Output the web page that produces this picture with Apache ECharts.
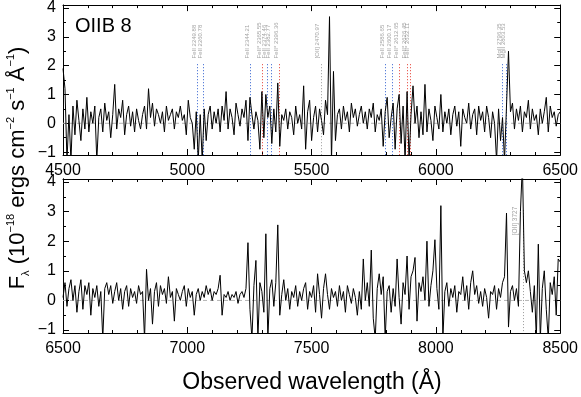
<!DOCTYPE html>
<html><head><meta charset="utf-8">
<script src="https://cdn.jsdelivr.net/npm/echarts@6/dist/echarts.min.js"></script>
<style>html,body{margin:0;padding:0;background:#fff}#c{width:581px;height:397px}</style>
</head><body><div id="c"></div>
<script>
// ---- data ----
const topStart = 4500, botStart = 6500, stepA = 8;
const topFlux = [
1.9,1.2,-1.3,0.3,-1.3,0.6,-0.4,0.8,0.1,-0.6,
0.5,-0.2,0.9,-0.3,0.4,0.0,0.6,-1.3,0.2,0.5,
-0.3,0.7,0.1,0.4,-0.5,0.3,1.35,-0.2,0.5,0.2,
0.8,-0.4,0.3,0.6,-0.1,0.4,-0.3,0.5,0.1,-0.2,
0.3,0.6,-0.2,1.2,0.2,0.7,-0.1,0.5,0.3,0.0,
0.4,-0.3,0.6,0.1,0.3,0.5,-0.2,0.4,0.2,0.6,
0.1,0.3,-0.4,0.8,0.2,0.0,-0.9,0.4,-1.3,0.3,
-1.3,0.5,-0.6,0.3,0.6,-0.2,0.4,0.0,0.5,-0.3,
0.6,0.1,1.1,-0.2,0.5,0.2,-0.4,0.7,0.3,-0.1,
0.5,0.2,0.8,-0.6,0.9,0.3,-0.2,0.4,0.1,-0.9,
1.1,-0.5,1.0,0.2,0.6,-0.7,0.5,-0.3,1.4,-0.8,
0.3,0.1,0.5,-0.2,0.4,0.2,-0.4,0.6,0.0,0.3,
-0.2,1.3,-0.9,0.4,0.8,-0.6,0.2,0.6,-0.3,0.5,
0.1,-0.4,0.8,0.3,3.7,-1.3,1.8,-0.6,0.3,0.5,
-0.2,0.6,0.1,0.4,-0.3,0.7,0.2,0.5,-0.1,0.3,
0.6,0.0,0.4,-0.2,0.5,0.2,0.7,-0.3,0.3,0.1,
0.5,-0.8,0.4,0.9,-0.5,0.2,0.7,-0.9,0.5,1.0,
-0.7,0.6,-1.3,1.1,-1.3,0.3,1.3,0.0,0.6,-0.5,
0.4,-0.4,1.35,-0.3,0.5,0.1,-0.6,0.6,0.2,-0.2,
1.0,-0.3,0.4,0.0,0.5,-0.4,0.3,0.6,-0.1,0.4,
-0.8,0.5,0.2,0.0,0.7,-0.2,0.3,0.5,-0.4,0.6,
0.1,0.4,-0.3,0.6,0.2,-0.5,0.4,0.0,-1.3,0.5,
-0.6,0.2,-1.3,0.6,2.5,0.4,0.7,-0.2,0.5,0.1,
0.6,-0.3,0.4,0.2,0.8,-0.2,0.5,0.1,0.3,-0.4,
0.5,0.0,0.4,0.9,-0.3,0.6,0.2,0.4,-0.1,0.3,
0.4];
const botFlux = [
0.1,0.6,-0.2,0.4,0.7,0.0,0.5,-0.4,0.3,0.7,
-0.3,0.5,0.2,0.6,-0.5,0.4,0.1,0.5,-0.2,0.3,
-1.3,0.4,0.6,0.2,0.5,-0.1,0.3,0.6,0.0,0.4,
-0.3,0.3,0.5,-0.2,0.4,0.1,0.3,-0.1,0.5,0.2,
0.3,-1.3,1.05,0.0,0.4,-0.8,0.3,0.6,-0.2,0.5,
0.2,0.4,-0.1,0.8,0.1,0.3,-0.7,0.4,0.2,0.0,
0.3,0.5,-0.2,0.4,0.1,0.3,-0.5,0.2,0.4,0.0,
0.3,0.1,0.5,0.2,0.4,0.0,0.3,0.2,0.4,0.85,
-0.5,0.2,0.1,0.3,0.0,0.2,0.1,0.3,-0.1,0.2,
0.3,0.1,0.4,1.95,-0.3,-1.3,0.5,1.35,-1.3,0.6,
0.3,-0.4,2.25,-1.3,0.4,0.7,-0.2,0.6,2.55,-0.5,
0.2,0.7,0.0,0.4,-0.3,0.3,0.1,0.5,-0.2,0.3,
0.0,0.4,0.6,-0.3,0.3,0.1,0.5,-0.4,0.9,0.2,
-0.6,0.4,0.9,0.2,-0.3,0.4,0.1,0.3,-0.2,0.5,
0.0,0.3,-0.4,0.5,0.2,-0.1,0.4,0.1,-0.5,0.3,
-0.3,1.4,0.0,0.6,-0.2,1.7,-0.6,-1.3,0.4,0.9,
0.2,0.8,-1.3,0.3,0.5,-0.4,0.4,-0.2,1.4,0.1,
-0.8,0.6,0.2,1.5,-0.3,0.8,1.0,1.45,-0.7,0.6,
0.3,0.8,0.0,2.0,-0.2,0.5,1.0,2.05,0.4,-0.3,
3.2,-1.3,0.3,0.6,-0.2,0.4,0.1,0.5,-0.4,0.3,
0.2,0.8,0.0,0.5,-0.3,0.6,1.0,0.2,0.5,-0.1,
0.3,-0.2,0.4,0.1,-0.6,0.3,0.2,0.5,-0.3,0.4,
0.1,0.6,0.8,2.95,-0.9,0.3,0.5,0.0,0.4,-0.2,
3.0,4.6,1.0,0.6,1.0,0.3,-0.4,0.5,-1.3,1.9,
-1.3,0.4,1.0,-0.3,-1.3,0.6,0.2,0.8,-0.5,1.4,
1.3];
const topLineNames = ['FeII 2249.88','FeII 2260.78','FeII 2344.21','FeII* 2365.55','FeII 2374.46','FeII 2382.77','FeII* 2396.36','[OII] 2470.97','FeII 2586.65','FeII 2600.17','FeII* 2612.65','FeII* 2626.45','FeII* 2632.11','MgII 2796.35','MgII 2803.53'];
const topLineWaves = [5042,5066,5253,5300,5321,5339,5370,5537,5797,5826,5854,5885,5897,6266,6282];
const topLineKinds = ['g','g','g','e','g','g','e','n','g','g','e','e','e','g','g'];
const botLineNames = ['[OII] 3727'];
const botLineWaves = [8350];
const topRange = [4500, 6500], botRange = [6500, 8500];
const xTicks = 500;
const yMajor = [-1, 0, 1, 2, 3, 4];
const yMinor = [-0.5, 0.5, 1.5, 2.5, 3.5];
const yRange = [-1.1, 4.1];

// ---- build ----
const kindColor = {g: '#2f5fd0', e: '#e53a2f', n: '#9a9a9a'};
const FONT = 'Liberation Sans, Arial, Helvetica, sans-serif';
const topData = topFlux.map((v, i) => [topStart + stepA * i, v]);
const botData = botFlux.map((v, i) => [botStart + stepA * i, v]);

function xAx(grid, range, pos, labels) {
  return {
    type: 'value', gridIndex: grid, position: pos, min: range[0], max: range[1], interval: xTicks,
    axisLine: {show: true, onZero: false, lineStyle: {color: '#000', width: 1}},
    axisTick: {show: true, inside: true, length: 6, lineStyle: {color: '#000'}},
    minorTick: {show: true, splitNumber: 5, length: 3, lineStyle: {color: '#000'}},
    axisLabel: {show: labels, color: '#000', fontSize: 16, fontFamily: FONT, margin: 8,
      formatter: v => String(v)},
    splitLine: {show: false}, minorSplitLine: {show: false}
  };
}
function yAx(grid, pos, labels, vals, len) {
  return {
    type: 'value', gridIndex: grid, position: pos, min: yRange[0], max: yRange[1],
    axisLine: {show: true, onZero: false, lineStyle: {color: '#000', width: 1}},
    axisTick: {show: true, inside: true, length: len, customValues: vals, lineStyle: {color: '#000'}},
    axisLabel: {show: labels, customValues: vals, color: '#000', fontSize: 16, fontFamily: FONT, margin: 7,
      formatter: v => String(Math.round(v)).replace('-', '\u2212')},
    splitLine: {show: false}
  };
}
const xAxis = [xAx(0, topRange, 'bottom', true), xAx(0, topRange, 'top', false),
               xAx(1, botRange, 'bottom', true), xAx(1, botRange, 'top', false)];
const yAxis = [
  yAx(0, 'left', true, yMajor, 6), yAx(0, 'left', false, yMinor, 3),
  yAx(0, 'right', false, yMajor, 6), yAx(0, 'right', false, yMinor, 3),
  yAx(1, 'left', true, yMajor, 6), yAx(1, 'left', false, yMinor, 3),
  yAx(1, 'right', false, yMajor, 6), yAx(1, 'right', false, yMinor, 3)
];

function zeroLine(xi, yi, range) {
  return {type: 'line', xAxisIndex: xi, yAxisIndex: yi, data: [[range[0], 0], [range[1], 0]],
    symbol: 'none', silent: true, z: 1, lineStyle: {color: '#b4b4b4', width: 1, type: [4, 3]}};
}
function spec(xi, yi, data) {
  return {type: 'line', xAxisIndex: xi, yAxisIndex: yi, data: data, symbol: 'none', z: 5,
    clip: true, animation: false, lineStyle: {color: '#000', width: 1}};
}
function annot(xi, yi, names, waves, kinds, labelY, lineTop, fontSize, pad) {
  return {
    type: 'scatter', xAxisIndex: xi, yAxisIndex: yi, symbolSize: 0, z: 4, silent: true,
    data: names.map((n, i) => ({name: n, value: [waves[i], labelY]})),
    label: {show: true, position: 'inside', rotate: 90, align: 'left', verticalAlign: 'bottom',
      formatter: '{b}', color: '#8a8a8a', fontSize: fontSize, fontFamily: FONT, padding: [0, 0, pad, 0]},
    markLine: {
      silent: true, symbol: 'none', animation: false, label: {show: false},
      data: waves.map((w, i) => [
        {coord: [w, lineTop], lineStyle: {color: kindColor[kinds[i]], type: [1, 2], width: 1}},
        {coord: [w, yRange[0]]}
      ])
    }
  };
}

const option = {
  animation: false,
  backgroundColor: '#fff',
  grid: [
    {left: 63, right: 19, top: 3, height: 152},
    {left: 63, right: 19, top: 179, height: 154}
  ],
  xAxis: xAxis,
  yAxis: yAxis,
  series: [
    zeroLine(0, 0, topRange), zeroLine(2, 4, botRange),
    annot(0, 0, topLineNames, topLineWaves, topLineKinds, 2.25, 2.05, 6, 0),
    annot(2, 4, botLineNames, botLineWaves, ['n'], 2.2, 3.05, 6.5, 4),
    spec(0, 0, topData), spec(2, 4, botData)
  ],
  graphic: [
    {type: 'text', left: 75, top: 16, style: {text: 'OIIB 8', fill: '#000', font: '20px ' + FONT}},
    {type: 'text', x: 18, y: 168, rotation: Math.PI / 2,
      style: {
        text: '{m|F}{sub|\u03bb}{m| (10}{sup|\u221218}{m| ergs cm}{sup|\u22122}{m| s}{sup|\u22121}{m| \u00c5}{sup|\u22121}{m|)}',
        align: 'center', verticalAlign: 'middle', fill: '#000',
        rich: {
          m: {fontSize: 22, fontFamily: FONT, fill: '#000', lineHeight: 26},
          sup: {fontSize: 11, fontFamily: FONT, fill: '#000', verticalAlign: 'top', lineHeight: 26},
          sub: {fontSize: 11, fontFamily: FONT, fill: '#000', verticalAlign: 'bottom', lineHeight: 22}
        }
      }},
    {type: 'text', x: 312, y: 383, style: {text: 'Observed wavelength (\u00c5)', align: 'center', verticalAlign: 'middle',
      fill: '#000', font: '23px ' + FONT}}
  ]
};
const chart = echarts.init(document.getElementById('c'), null, {renderer: 'canvas'});
chart.setOption(option);
</script></body></html>
